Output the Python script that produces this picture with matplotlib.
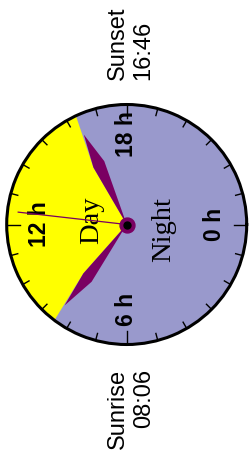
import numpy as np
import matplotlib
matplotlib.use("Agg")
import matplotlib.pyplot as plt

# --- data -----------------------------------------------------------------
sunrise = "08:06"
sunset = "16:46"

hour_ticks = list(range(24))
hour_labels = {0: "0 h", 6: "6 h", 12: "12 h", 18: "18 h"}

# outline of the day area, (hour, radius 0..1)
day_edge_am_h = [8.77, 8.77, 8.47]
day_edge_am_r = [0.0, 0.545, 1.0]
day_edge_pm_h = [16.33, 15.98, 15.98]
day_edge_pm_r = [1.0, 0.55, 0.0]

# twilight wedges
dawn_h = [8.10, 8.10, 8.50, 8.77, 8.77]
dawn_r = [0.0, 0.56, 0.85, 0.545, 0.0]
dusk_h = [16.70, 16.70, 16.30, 15.98, 15.98]
dusk_r = [0.0, 0.56, 0.83, 0.55, 0.0]

NIGHT = "#9999cc"
DAY = "#ffff00"
PURPLE = "#7a0062"


def hm(s):
    h, m = s.split(":")
    return int(h) + int(m) / 60.0


def th(hours):
    return np.asarray(hours, dtype=float) / 24.0 * 2 * np.pi


noon = (hm(sunrise) + hm(sunset)) / 2.0

fig = plt.figure(figsize=(2.5, 4.72), dpi=100)
ax = fig.add_axes([0.0268, 0.2701, 0.96, 0.5085], projection="polar")
ax.set_theta_zero_location("E")
ax.set_theta_direction(-1)
ax.set_ylim(0, 1)
ax.set_facecolor(NIGHT)
ax.grid(False)
ax.set_xticks([])
ax.set_yticks([])
ax.spines["polar"].set_linewidth(2.2)

# day area (arc along the rim built from the two edge hours)
arc_h = np.linspace(day_edge_am_h[-1], day_edge_pm_h[0], 120)
fill_h = np.concatenate([day_edge_am_h, arc_h, day_edge_pm_h])
fill_r = np.concatenate([day_edge_am_r, np.ones_like(arc_h), day_edge_pm_r])
ax.fill(th(fill_h), fill_r, color=DAY, lw=0, zorder=1)

ax.fill(th(dawn_h), dawn_r, color=PURPLE, lw=0, zorder=2)
ax.fill(th(dusk_h), dusk_r, color=PURPLE, lw=0, zorder=2)

# hour ticks
for h in hour_ticks:
    r0 = 0.89 if h % 6 == 0 else 0.94
    ax.plot(th([h, h]), [r0, 1.0], color="black", lw=1.0, zorder=3)

label_r = {0: 0.73, 6: 0.71, 12: 0.73, 18: 0.75}
for h, txt in hour_labels.items():
    ax.text(th(h), label_r[h], txt, rotation=90, ha="center", va="center",
            fontsize=16.5, fontweight="bold", family="Liberation Sans",
            zorder=4)

ax.text(th(12.5), 0.295, "Day", rotation=90, ha="center", va="center",
        fontsize=20.5, family="Liberation Serif", zorder=4)
ax.text(th(0.55), 0.31, "Night", rotation=90, ha="center", va="center",
        fontsize=20.5, family="Liberation Serif", zorder=4)

# noon hand and hub
ax.plot(th([noon, noon]), [0, 0.91], color=PURPLE, lw=0.9, zorder=5)
ax.scatter([0], [0], s=115, color=PURPLE, zorder=6)
ax.scatter([0], [0], s=25, color="black", zorder=7)

fig.text(0.524, 0.8305, "Sunset\n" + sunset, rotation=90, ha="center",
         va="bottom", multialignment="left", fontsize=17,
         family="Liberation Sans")
fig.text(0.524, 0.218, "Sunrise\n" + sunrise, rotation=90, ha="center",
         va="top", multialignment="right", fontsize=17,
         family="Liberation Sans")

fig.savefig("out.png", dpi=100)
